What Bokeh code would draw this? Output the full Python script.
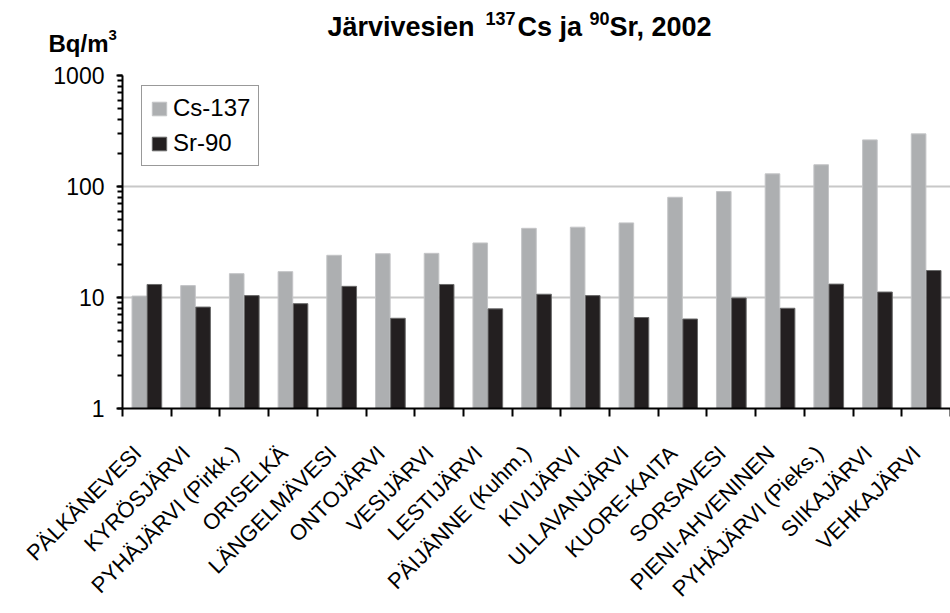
from math import pi
from bokeh.plotting import figure
from bokeh.layouts import column
from bokeh.models import (ColumnDataSource, FactorRange, Range1d, LinearAxis,
                          FixedTicker, CustomJSTickFormatter,
                          NumeralTickFormatter, Label, Legend, LegendItem)
from bokeh.transform import dodge
from bokeh.embed import file_html
from bokeh.resources import INLINE

lakes = ["PÄLKÄNEVESI", "KYRÖSJÄRVI", "PYHÄJÄRVI (Pirkk.)", "ORISELKÄ",
         "LÄNGELMÄVESI", "ONTOJÄRVI", "VESIJÄRVI", "LESTIJÄRVI",
         "PÄIJÄNNE (Kuhm.)", "KIVIJÄRVI", "ULLAVANJÄRVI", "KUORE-KAITA",
         "SORSAVESI", "PIENI-AHVENINEN", "PYHÄJÄRVI (Pieks.)", "SIIKAJÄRVI",
         "VEHKAJÄRVI"]
cs137 = [10.3, 12.8, 16.4, 17.1, 24.0, 24.8, 25.0, 31.0, 42.0, 43.0, 47.0,
         80.0, 90.0, 130.0, 157.0, 263.0, 298.0]
sr90 = [13.1, 8.2, 10.4, 8.8, 12.6, 6.5, 13.1, 7.9, 10.7, 10.4, 6.6,
        6.4, 9.9, 8.0, 13.2, 11.2, 17.5]
boundaries = list(range(len(lakes) + 1))

FONT = "Liberation Sans"
GRAY = "#adafb1"
BLACK = "#231f20"
W = 950
LABEL_SHIFT = -0.19   # label anchor offset within a category (styling)

# ---------- title strip ----------
tf = figure(width=W, height=60, x_range=Range1d(0, W), y_range=Range1d(0, 60),
            title=None, x_axis_location=None, y_axis_location=None,
            output_backend="svg", toolbar_location=None, min_border=0,
            frame_align=False)
tf.outline_line_color = None
tf.grid.visible = False


def lab(fig, txt, x, y, size, bold=True):
    fig.add_layout(Label(x=x, y=y, x_units="screen", y_units="screen", text=txt,
                         text_font=FONT, text_font_size=size,
                         text_font_style="bold" if bold else "normal",
                         text_color="black", text_baseline="alphabetic",
                         text_align="left"))


lab(tf, "Järvivesien", 327, 34, "27px")
lab(tf, "137", 485, 42, "18px")
lab(tf, "Cs ja", 517, 34, "27px")
lab(tf, "90", 589, 42, "18px")
lab(tf, "Sr, 2002", 609, 34, "27px")
lab(tf, "Bq/m", 48, 17, "24px")
lab(tf, "3", 108, 26, "15px")

# ---------- main chart ----------
src = ColumnDataSource(dict(lake=lakes, cs=cs137, sr=sr90))

p = figure(width=W, height=553, title=None,
           x_range=FactorRange(factors=lakes, range_padding=0),
           y_range=Range1d(1, 1000), y_axis_type="log",
           x_axis_location=None,
           output_backend="svg", toolbar_location=None,
           min_border_left=122, min_border_right=0,
           min_border_top=15, min_border_bottom=203, frame_align=False)
p.outline_line_color = None
p.background_fill_color = "white"
p.border_fill_color = "white"

r1 = p.vbar(x=dodge("lake", -0.155, range=p.x_range), top="cs", bottom=1,
            width=0.30, source=src, fill_color=GRAY, line_color="#c4c5c7",
            line_width=1)
r2 = p.vbar(x=dodge("lake", 0.155, range=p.x_range), top="sr", bottom=1,
            width=0.30, source=src, fill_color=BLACK, line_color="#6a6a6a",
            line_width=1)

p.ygrid.grid_line_color = "#c8c8c8"
p.ygrid.grid_line_width = 2
p.xgrid.visible = False

ya = p.yaxis[0]
ya.formatter = NumeralTickFormatter(format="0")
ya.axis_line_color = "black"
ya.axis_line_width = 2
ya.major_tick_line_width = 2
ya.minor_tick_line_width = 2
ya.major_tick_in = 0
ya.major_tick_out = 6
ya.minor_tick_in = 0
ya.minor_tick_out = 5
ya.major_label_standoff = 12
ya.major_label_text_font = FONT
ya.major_label_text_font_size = "23px"
ya.major_label_text_color = "black"

# x axis: ticks at category boundaries
xb = LinearAxis(ticker=FixedTicker(ticks=boundaries, minor_ticks=[]),
                formatter=CustomJSTickFormatter(code="return ''"))
xb.axis_line_color = "black"
xb.axis_line_width = 2
xb.major_tick_line_width = 2
xb.major_tick_in = 0
xb.major_tick_out = 8
xb.minor_tick_line_color = None
xb.major_label_standoff = 0
xb.major_label_text_font_size = "1px"
p.add_layout(xb, "below")

# category names, rotated (one label per category)
label_pos = [i + 0.5 + LABEL_SHIFT for i in range(len(lakes))]
xc = LinearAxis(ticker=FixedTicker(ticks=label_pos, minor_ticks=[]),
                formatter=CustomJSTickFormatter(
                    args=dict(names=lakes, shift=LABEL_SHIFT),
                    code="return names[Math.round(tick - 0.5 - shift)]"))
xc.axis_line_color = None
xc.major_tick_line_color = None
xc.major_tick_in = 0
xc.major_tick_out = 0
xc.minor_tick_line_color = None
xc.major_label_orientation = pi / 4
xc.major_label_standoff = 33
xc.major_label_text_font = FONT
xc.major_label_text_font_size = "22px"
xc.major_label_text_color = "black"
p.add_layout(xc, "below")

legend = Legend(items=[LegendItem(label="Cs-137", renderers=[r1]),
                       LegendItem(label="Sr-90", renderers=[r2])],
                location=(19, 242), margin=0, padding=8, spacing=7,
                label_height=28, glyph_height=17, glyph_width=18,
                label_standoff=5, label_text_font=FONT,
                label_text_font_size="24px", label_text_color="black",
                border_line_color="#333333", border_line_width=1,
                background_fill_color="white", background_fill_alpha=1)
p.add_layout(legend)

layout = column(tf, p, spacing=0)
open("out.html", "w").write(file_html(layout, INLINE))
